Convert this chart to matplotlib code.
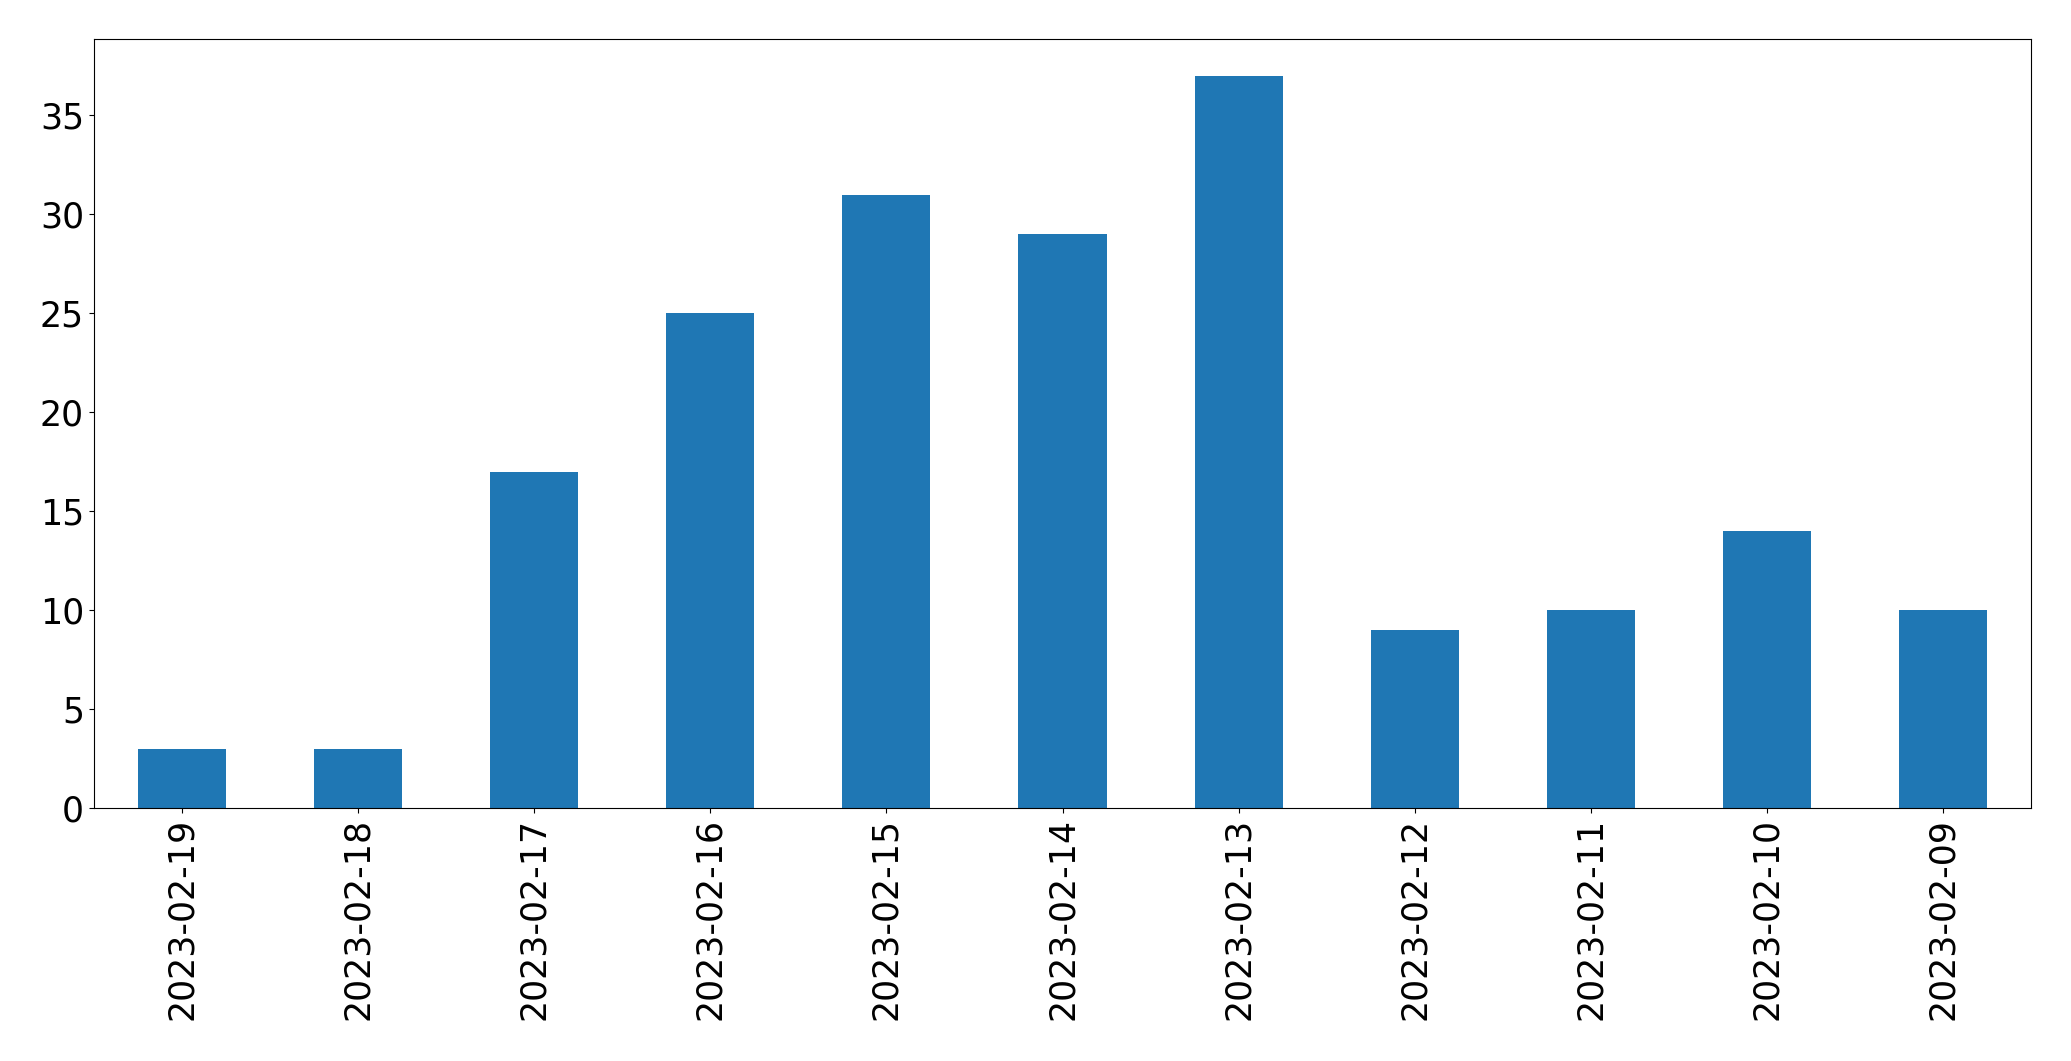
import matplotlib
matplotlib.use("Agg")
import matplotlib.pyplot as plt

dates = ["2023-02-19", "2023-02-18", "2023-02-17", "2023-02-16", "2023-02-15",
         "2023-02-14", "2023-02-13", "2023-02-12", "2023-02-11", "2023-02-10",
         "2023-02-09"]
counts = [3, 3, 17, 25, 31, 29, 37, 9, 10, 14, 10]

fig = plt.figure(figsize=(20.71, 10.61), dpi=100)
ax = fig.add_axes([0.0453, 0.2385, 0.9355, 0.7245])
x = list(range(len(dates)))
ax.bar(x, counts, width=0.5, color="#1f77b4")
ax.set_xlim(-0.5, len(dates) - 0.5)
ax.set_xticks(x)
ax.set_xticklabels(dates, rotation=90)
ax.tick_params(labelsize=25)
fig.savefig("out.png", dpi=100)
